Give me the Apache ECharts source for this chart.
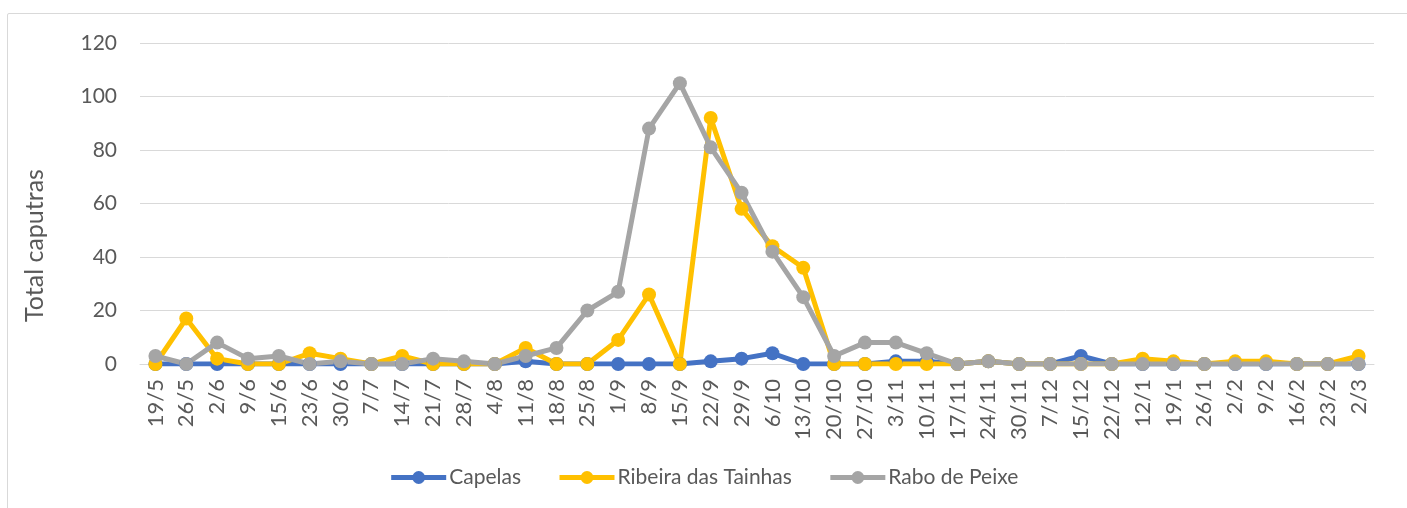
<!DOCTYPE html>
<html lang="pt">
<head>
<meta charset="UTF-8">
<title>Total capturas</title>
<script src="https://cdn.jsdelivr.net/npm/echarts@6/dist/echarts.min.js"></script>
<style>
  html, body { margin: 0; padding: 0; background: #fff; }
  #frame { position: absolute; left: 7px; top: 13px; width: 1410px; height: 510px; border: 1px solid #d9d9d9; border-radius: 2px; box-sizing: border-box; }
  #main { position: absolute; left: 0; top: 0; width: 1407px; height: 508px; }
</style>
</head>
<body>
<div id="frame"></div>
<div id="main"></div>
<script type="text/javascript">
// datas das amostragens
var categories = ['19/5','26/5','2/6','9/6','15/6','23/6','30/6','7/7','14/7','21/7','28/7','4/8','11/8','18/8','25/8','1/9','8/9','15/9','22/9','29/9','6/10','13/10','20/10','27/10','3/11','10/11','17/11','24/11','30/11','7/12','15/12','22/12','12/1','19/1','26/1','2/2','9/2','16/2','23/2','2/3'];
var capelas = [0,0,0,0,0,0,0,0,0,0,0,0,1,0,0,0,0,0,1,2,4,0,0,0,1,1,0,1,0,0,3,0,0,0,0,0,0,0,0,0];
var ribeira = [0,17,2,0,0,4,2,0,3,0,0,0,6,0,0,9,26,0,92,58,44,36,0,0,0,0,0,1,0,0,0,0,2,1,0,1,1,0,0,3];
var rabo    = [3,0,8,2,3,0,1,0,0,2,1,0,3,6,20,27,88,105,81,64,42,25,3,8,8,4,0,1,0,0,0,0,0,0,0,0,0,0,0,0];
var yTicks = { min: 0, max: 120, interval: 20 };

var myChart = echarts.init(document.getElementById('main'));

function serie(name, data, color) {
  return {
    name: name,
    type: 'line',
    data: data,
    symbol: 'circle',
    symbolSize: 14,
    lineStyle: { color: color, width: 5 },
    itemStyle: { color: color },
    emphasis: { disabled: true },
    animation: false
  };
}

var option = {
  textStyle: { fontFamily: 'Lato, Noto Sans, sans-serif' },
  grid: { left: 140, right: 33, top: 43, bottom: 144 },
  legend: {
    bottom: 15,
    left: 'center',
    itemWidth: 55,
    itemHeight: 16,
    itemGap: 36,
    lineStyle: { width: 5 },
    textStyle: { fontSize: 21, color: '#595959', padding: [0, 0, 0, -2] },
    data: ['Capelas', 'Ribeira das Tainhas', 'Rabo de Peixe']
  },
  xAxis: {
    type: 'category',
    data: categories,
    boundaryGap: true,
    axisLine: { lineStyle: { color: '#d9d9d9', width: 1 } },
    axisTick: { show: false },
    axisLabel: { rotate: 90, interval: 0, fontSize: 22, color: '#595959', margin: 15 }
  },
  yAxis: {
    type: 'value',
    min: yTicks.min,
    max: yTicks.max,
    interval: yTicks.interval,
    name: 'Total caputras',
    nameLocation: 'middle',
    nameGap: 93,
    nameTextStyle: { fontSize: 25, color: '#595959', padding: [0, 84, 0, 0] },
    axisLine: { show: false },
    axisTick: { show: false },
    axisLabel: { fontSize: 21, color: '#595959', margin: 23 },
    splitLine: { lineStyle: { color: '#d9d9d9', width: 1 } }
  },
  series: [
    serie('Capelas', capelas, '#4472C4'),
    serie('Ribeira das Tainhas', ribeira, '#FFC000'),
    serie('Rabo de Peixe', rabo, '#A5A5A5')
  ]
};
myChart.setOption(option);
</script>
</body>
</html>
